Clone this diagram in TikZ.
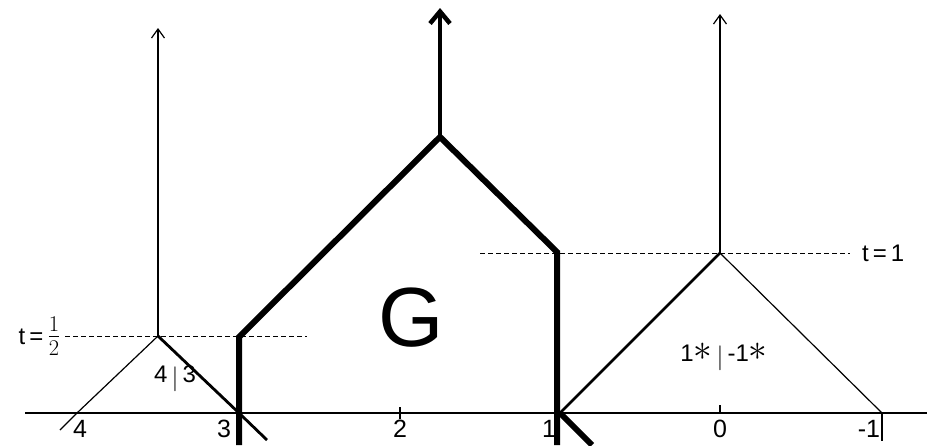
\documentclass[tikz,border=0pt]{standalone}
\usepackage{fontspec}
\setsansfont{Liberation Sans}
\usepackage{tikz}
\usetikzlibrary{arrows.meta}

\newcommand{\bigast}{\raisebox{0.1ex}{\scalebox{1.5}{$\ast$}}}

\begin{document}
\begin{tikzpicture}[x=1pt,y=-1pt,>={Straight Barb[length=9pt,width=13pt]},
  hair/.style={line width=1.2pt},
  medium/.style={line width=2.8pt},
  heavy/.style={line width=6pt,line join=miter},
  tlevel/.style={dashed,line width=0.9pt,dash pattern=on 5pt off 3pt},
  num/.style={font=\sffamily\fontsize{25}{27}\selectfont,inner sep=0pt},
  lab/.style={font=\sffamily\fontsize{24}{26}\selectfont,inner sep=0pt}]
\useasboundingbox (0,0) rectangle (927,445);
% axis and points on it
\coordinate (P4) at (77,413);
\coordinate (P3) at (239,413);
\coordinate (P2) at (400,413);
\coordinate (P1) at (560,413);
\coordinate (P0) at (720,413);
\coordinate (Pm1) at (882,413);
\coordinate (axL) at (25,413);
\coordinate (axR) at (927,413);
\draw[hair] (axL) -- (axR);
\draw[hair] (P2) ++(0,-6) -- ++(0,12);
\draw[hair] (P0) ++(0,-8) -- ++(0,8);
\draw[hair] (Pm1) -- ++(0,28);
\node[num] (n4) at (80,429) {4};
\node[num] (n3) at (224,429) {3};
\node[num] (n2) at (400,429) {2};
\node[num] (n1) at (549,429) {1};
\node[num] (n0) at (720,429) {0};
\node[num] (nm1) at (869,429) {-1};
% apexes
\coordinate (topL) at (158,336);
\coordinate (topG) at (440,137);
\coordinate (topR) at (720,253);
% time levels
\coordinate (hL) at (65,336);
\coordinate (hR) at (307,336);
\coordinate (oL) at (480,253);
\coordinate (oR) at (850,253);
\draw[tlevel] (hL) -- (hR);
\draw[tlevel] (oL) -- (oR);
\node[lab,anchor=east] (thalf) at ([xshift=-4pt]hL) {t\,=\,\scalebox{1.3}{$\frac{1}{2}$}};
\node[lab,anchor=west] (tone) at ([xshift=12pt]oR) {t\,=\,1};
% left triangle
\draw[hair] (60,430) -- (P4) -- (topL);
\draw[medium] (topL) -- (P3) -- (267,440);
\draw[hair,->] (topL) -- (158,28);
\node[lab] (c43) at (175,379) {4\raisebox{-0.25ex}{$\,|\,$}3};
% region G
\draw[heavy] (239,445) -- (239,337) -- (topG) -- (557,252) -- (557,445);
\draw[heavy] (P1) -- (592,445);
\draw[line width=4.5pt,->,>={Straight Barb[length=12pt,width=20pt]}] (topG) -- (440,8);
\node[font=\sffamily\fontsize{84}{84}\selectfont,inner sep=0pt] (G) at (411,318) {G};
% right triangle
\draw[medium] (P1) -- (topR);
\draw[hair] (topR) -- (Pm1);
\draw[hair,->] (topR) -- (720,14);
\node[lab] (c11) at (724,357) {1\bigast\raisebox{-0.25ex}{$\,|\,$}-1\bigast};
\end{tikzpicture}
\end{document}
